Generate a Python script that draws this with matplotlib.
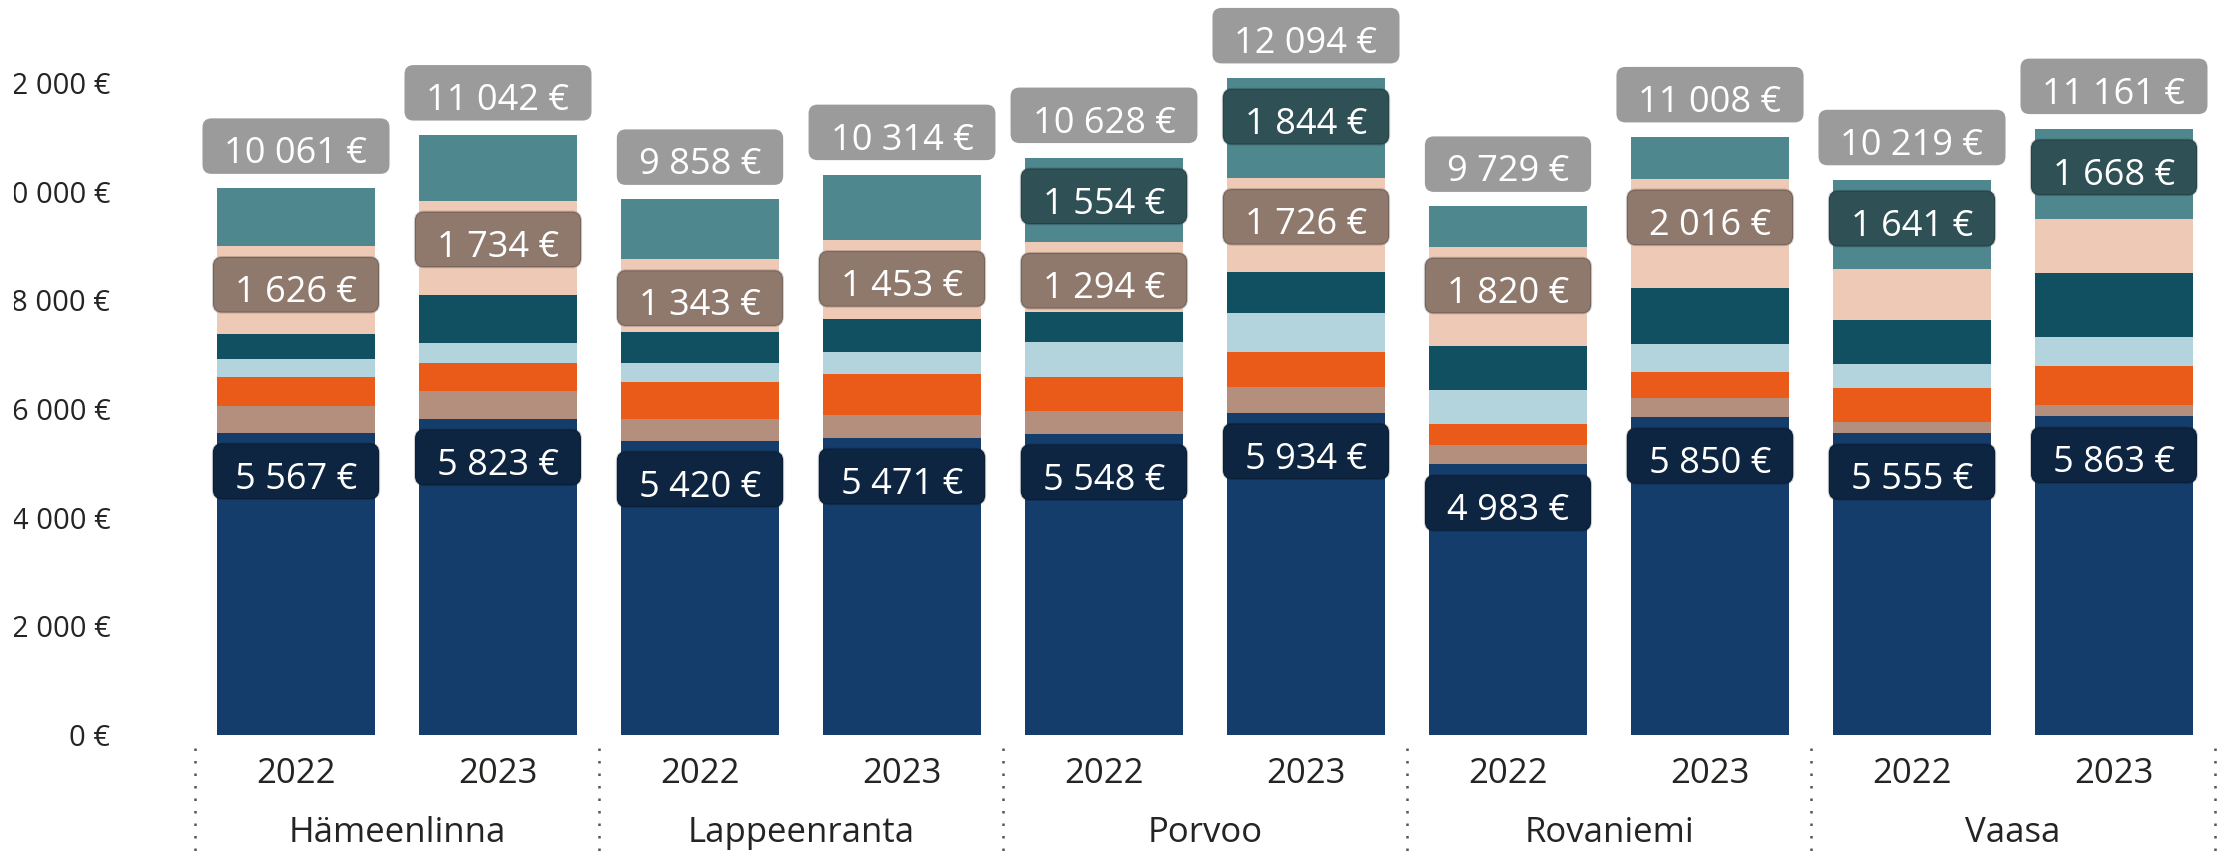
import matplotlib
matplotlib.use("Agg")
import matplotlib.pyplot as plt
import numpy as np
from matplotlib.colors import to_rgb
from matplotlib.patches import BoxStyle
from matplotlib.transforms import Bbox, TransformedBbox, blended_transform_factory

plt.rcParams["font.family"] = ["Open Sans", "DejaVu Sans"]

cities = ["Hämeenlinna", "Lappeenranta", "Porvoo", "Rovaniemi", "Vaasa"]
years = ["2022", "2023"]

# one value per bar: city by city, 2022 then 2023 (stack order bottom -> top)
navy = [5567, 5823, 5420, 5471, 5548, 5934, 4983, 5850, 5555, 5863]
taupe = [494, 508, 390, 419, 415, 477, 346, 349, 212, 211]
orange = [534, 522, 693, 754, 620, 632, 400, 479, 613, 724]
light_blue = [325, 368, 350, 399, 644, 718, 626, 521, 448, 521]
dark_teal = [454, 879, 558, 613, 553, 763, 811, 1025, 810, 1178]
peach = [1626, 1734, 1343, 1453, 1294, 1726, 1820, 2016, 940, 996]
teal = [1061, 1208, 1104, 1205, 1554, 1844, 743, 768, 1641, 1668]
totals = [10061, 11042, 9858, 10314, 10628, 12094, 9729, 11008, 10219, 11161]

segments = [navy, taupe, orange, light_blue, dark_teal, peach, teal]
seg_colors = ["#153D6C", "#B48F7D", "#EA5B1A", "#B3D3DD", "#105061", "#EECAB6", "#4F878F"]
label_min = 1250  # smaller segments get no label


def euro(v):
    return f"{v:,.0f}".replace(",", " ") + " €"


def shade(color, k=0.6):
    r, g, b = to_rgb(color)
    return (r * k, g * k, b * k)


class LabelBox:
    """Rounded box with its own horizontal / vertical padding in pixels."""

    def __init__(self, padx=22, pad_top=18, pad_bottom=1.5, radius=9):
        self.padx = padx
        self.pad_top = pad_top
        self.pad_bottom = pad_bottom
        self.round = BoxStyle.Round(pad=0, rounding_size=radius)

    def __call__(self, x0, y0, width, height, mutation_size):
        return self.round(x0 - self.padx, y0 - self.pad_bottom,
                          width + 2 * self.padx,
                          height + self.pad_top + self.pad_bottom, 1.0)


fig = plt.figure(figsize=(22.17, 8.6), dpi=100)
ax = fig.add_axes([195 / 2217, 125 / 860, 2020 / 2217, 735 / 860])

x = np.arange(len(totals))
bottom = np.zeros(len(totals))
for values, color in zip(segments, seg_colors):
    ax.bar(x, values, width=0.785, bottom=bottom, color=color, linewidth=0)
    for xi, b, v in zip(x, bottom, values):
        if v >= label_min:
            ax.annotate(euro(v), xy=(xi, b + v), xytext=(0, -56),
                        textcoords="offset pixels", ha="center", va="baseline",
                        fontsize=26, color="white",
                        bbox=dict(boxstyle=LabelBox(), fc=shade(color),
                                  ec=(0, 0, 0, 0.18), lw=1.5))
    bottom += np.array(values)

for xi, t in zip(x, totals):
    ax.annotate(euro(t), xy=(xi, t), xytext=(0, 25), textcoords="offset pixels",
                ha="center", va="baseline", fontsize=26, color="white",
                bbox=dict(boxstyle=LabelBox(), fc="#9B9B9B", ec="none"))

ax.set_xlim(-0.5, len(totals) - 0.5)
ax.set_ylim(0, 13528)
for s in ax.spines.values():
    s.set_visible(False)

yt = list(range(0, 12001, 2000))
ax.set_yticks(yt, [euro(v) for v in yt])
ax.tick_params(axis="y", length=0, pad=61, labelsize=21, labelcolor="#252423")
ax.set_xticks([])
# the reference is cropped on the left, cutting the leading "1"
clip = TransformedBbox(Bbox([[14 / 2217, 0], [1, 1]]), fig.transFigure)
for lab in ax.get_yticklabels():
    lab.set_clip_box(clip)
    lab.set_clip_on(True)

trans = blended_transform_factory(ax.transData, ax.transAxes)
for i, city in enumerate(cities):
    for j, year in enumerate(years):
        ax.text(2 * i + j, -48 / 735, year, transform=trans, ha="center",
                va="baseline", fontsize=25, color="#252423")
    ax.text(2 * i + 0.5, -107 / 735, city, transform=trans, ha="center",
            va="baseline", fontsize=25, color="#252423")

for sep in np.arange(-0.5, len(totals), 2):
    ax.plot([sep, sep], [-13 / 735, -0.18], transform=trans, color="#555555",
            lw=1.8, ls=(0, (1, 4)), clip_on=False)

fig.savefig("out.png", dpi=100)
